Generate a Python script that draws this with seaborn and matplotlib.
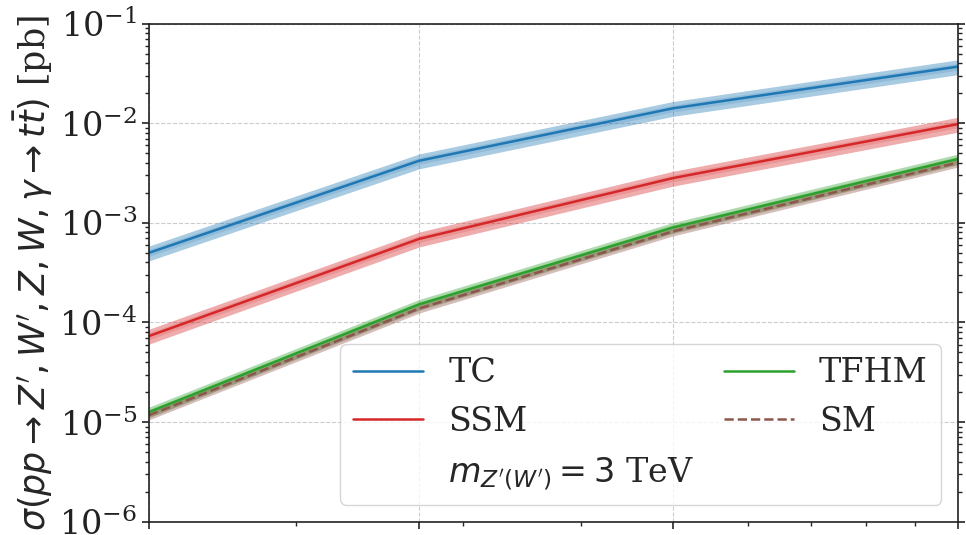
import numpy as np
import pandas as pd
import matplotlib
matplotlib.use("Agg")
import matplotlib.pyplot as plt
from matplotlib.lines import Line2D
from matplotlib.ticker import FixedLocator, NullFormatter, LogLocator
import seaborn as sns

# ---------------------------------------------------------------------------
# DATA  (sqrt(s) in TeV, cross sections in pb, m_Z'(W') = 3 TeV)
# ---------------------------------------------------------------------------
sqrt_s = [14, 27, 50, 100]

tc   = [5.0e-4, 4.2e-3, 1.41e-2, 3.70e-2]
ssm  = [7.3e-5, 6.9e-4, 2.81e-3, 9.8e-3]
tfhm = [1.26e-5, 1.52e-4, 8.97e-4, 4.38e-3]
sm   = [1.17e-5, 1.38e-4, 8.2e-4, 4.03e-3]

models   = ["TC", "SSM", "TFHM", "SM"]
band_unc = [0.17, 0.17, 0.12, 0.10]     # relative scale uncertainty (outer band)
band_in  = [0.08, 0.08, 0.06, 0.05]     # inner band

COLORS = {"TC": "#1f77b4", "SSM": "#d62728", "TFHM": "#2ca02c", "SM": "#8c564b"}
STYLES = {"TC": "-", "SSM": "-", "TFHM": "-", "SM": "--"}

# ---------------------------------------------------------------------------
# STYLE
# ---------------------------------------------------------------------------
sns.set_style("ticks")
plt.rcParams["font.family"] = ["DejaVu Serif"]
plt.rcParams["mathtext.fontset"] = "dejavusans"
FS = 24

df = pd.DataFrame({
    "sqrt_s": sqrt_s * 4,
    "xsec": tc + ssm + tfhm + sm,
    "model": [m for m in models for _ in sqrt_s],
})

fig = plt.figure(figsize=(9.66, 5.35), dpi=100)
ax = fig.add_axes([0.1542, 0.0249, 0.8375, 0.931])

# bandes d'incertitude
for m, u, ui in zip(models, band_unc, band_in):
    sub = df[df["model"] == m]
    x = sub["sqrt_s"].to_numpy()
    y = sub["xsec"].to_numpy()
    ax.fill_between(x, y * (1 - u), y * (1 + u), color=COLORS[m],
                    alpha=0.38, linewidth=0)
    ax.fill_between(x, y * (1 - ui), y * (1 + ui), color=COLORS[m],
                    alpha=0.18, linewidth=0)

for m in models:
    sns.lineplot(data=df[df["model"] == m], x="sqrt_s", y="xsec", ax=ax,
                 color=COLORS[m], linestyle=STYLES[m], linewidth=1.8,
                 legend=False)

ax.set_xscale("log")
ax.set_yscale("log")
ax.set_xlim(14, 100)
ax.set_ylim(1e-6, 1e-1)

ax.xaxis.set_major_locator(FixedLocator(sqrt_s))
ax.xaxis.set_major_formatter(NullFormatter())
ax.xaxis.set_minor_locator(LogLocator(base=10, subs=np.arange(2, 10)))
ax.xaxis.set_minor_formatter(NullFormatter())
ax.yaxis.set_minor_locator(LogLocator(base=10, subs=np.arange(2, 10), numticks=20))

ax.grid(True, which="major", linestyle="--", color="#cccccc", linewidth=0.8)
ax.tick_params(axis="y", which="both", left=True, right=True, direction="out",
               labelsize=FS, colors="#222222")
ax.tick_params(axis="x", which="both", bottom=True, top=False, direction="out")
ax.tick_params(which="major", length=5, width=1.2)
ax.tick_params(which="minor", length=3, width=1.0)
for sp in ax.spines.values():
    sp.set_color("#222222")
    sp.set_linewidth(1.2)

ax.set_xlabel("")
ax.set_ylabel(r"$\sigma(pp \to Z', W', Z, W, \gamma \to t\bar{t})$ [pb]",
              fontsize=25, labelpad=3)

handles = [
    Line2D([], [], color=COLORS["TC"], lw=1.8),
    Line2D([], [], color=COLORS["SSM"], lw=1.8),
    Line2D([], [], color="none"),
    Line2D([], [], color=COLORS["TFHM"], lw=1.8),
    Line2D([], [], color=COLORS["SM"], lw=1.8, ls="--"),
]
labels = ["TC", "SSM", r"$m_{Z'(W')} = 3$ TeV", "TFHM", "SM"]
ax.legend(handles, labels, loc="lower right", ncol=2, fontsize=FS,
          frameon=True, fancybox=True, edgecolor="#cccccc",
          columnspacing=0.9, handletextpad=0.75, handlelength=2.1)

fig.savefig("out.png", dpi=100)
